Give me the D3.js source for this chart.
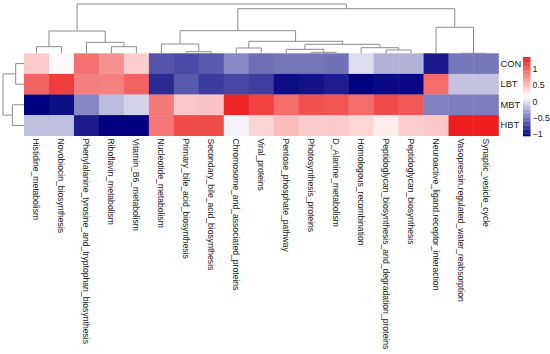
<!DOCTYPE html>
<head>
  <meta charset="utf-8">
  <script src="https://d3js.org/d3.v7.min.js"></script>
  <style>
    body { margin:0; background:#fff; }
    text { font-family: "Liberation Sans", Arial, sans-serif; fill:#1a1a1a; }
  </style>
</head>
<body>
  <div class="body"></div>
  <script>
    // pathways (columns, in dendrogram order) and groups (rows)
    const columns = ["Histidine_metabolism", "Novobiocin_biosynthesis",
      "Phenylalanine_tyrosine_and_tryptophan_biosynthesis", "Riboflavin_metabolism",
      "Vitamin_B6_metabolism", "Nucleotide_metabolism", "Primary_bile_acid_biosynthesis",
      "Secondary_bile_acid_biosynthesis", "Chromosome_and_associated_proteins", "Viral_proteins",
      "Pentose_phosphate_pathway", "Photosynthesis_proteins", "D_Alanine_metabolism",
      "Homologous_recombination", "Peptidoglycan_biosynthesis_and_degradation_proteins",
      "Peptidoglycan_biosynthesis", "Neuroactive_ligand.receptor_interaction",
      "Vasopressin.regulated_water_reabsorption", "Synaptic_vesicle_cycle"];
    const rows = ["CON", "LBT", "MBT", "HBT"];

    // scaled values, one array per row
    const valCON = [0.44, 0.18, 0.92, 0.75, 0.42, -0.66, -0.70, -0.64, -0.41, -0.53,
                    -0.50, -0.50, -0.52, 0.00, -0.21, -0.21, -0.94, -0.50, -0.50];
    const valLBT = [1.00, 1.20, 0.85, 0.84, 1.00, -0.86, -0.64, -0.78, -0.72, -0.76,
                    -1.00, -0.97, -0.92, -1.06, -1.02, -1.02, 0.95, -0.13, -0.13];
    const valMBT = [-1.06, -1.00, -0.42, -0.17, -0.06, 0.88, 0.46, 0.48, 1.34, 1.18,
                    0.95, 1.10, 1.08, 0.95, 1.13, 1.06, -0.45, -0.47, -0.47];
    const valHBT = [-0.15, -0.15, -0.93, -1.06, -1.06, 0.88, 1.12, 1.12, 0.10, 0.40,
                    0.52, 0.43, 0.44, 0.38, 0.26, 0.42, 0.45, 1.37, 1.37];
    const values = [valCON, valLBT, valMBT, valHBT];

    const legendTicks = [-1, -0.5, 0, 0.5, 1];
    const valueRange = [-1.06, 1.37];

    // hclust style merges: negative = leaf (1-based), positive = earlier merge
    const colMerge = [[-1, -2, 0.66], [-4, -5, 0.66], [-3, 2, 1.10], [1, 3, 2.23],
      [-7, -8, 0.16], [-6, 5, 0.93], [-9, -10, 0.53], [-12, -13, 0.10], [-11, 8, 0.40],
      [-15, -16, 0.33], [-14, 10, 0.56], [9, 11, 0.90], [7, 12, 1.20], [6, 13, 2.26],
      [-18, -19, 0.0], [-17, 15, 2.60], [14, 16, 4.46], [4, 17, 4.93]];
    const rowMerge = [[-1, -2, 0.83], [-3, -4, 1.17], [1, 2, 2.10]];

    const W = 550, H = 354;
    const svg = d3.select(".body").append("svg")
      .attr("width", W).attr("height", H);

    const x = d3.scaleBand().domain(columns).range([24, 498.5]);
    const y = d3.scaleBand().domain(rows).range([53.3, 135.7]);

    const mid = (valueRange[0] + valueRange[1]) / 2;
    const color = d3.scaleLinear()
      .domain([valueRange[0], mid, valueRange[1]])
      .range(["#000080", "#ffffff", "#ee1e1e"]);

    // cells
    const cells = [];
    rows.forEach(function(r, i) {
      columns.forEach(function(c, j) { cells.push({row: r, col: c, v: values[i][j]}); });
    });
    svg.append("g").selectAll("rect").data(cells).enter().append("rect")
      .attr("x", function(d) { return x(d.col); })
      .attr("y", function(d) { return y(d.row); })
      .attr("width", x.bandwidth() + 0.3)
      .attr("height", y.bandwidth() + 0.3)
      .attr("fill", function(d) { return color(d.v); });

    // dendrogram helper
    function dendro(merge, leafPos, hScale, vertical) {
      const pos = [], hgt = [];
      let d = "";
      merge.forEach(function(m, k) {
        const p = [], h = [];
        for (let s = 0; s < 2; s++) {
          const id = m[s];
          if (id < 0) { p.push(leafPos(-id - 1)); h.push(0); }
          else { p.push(pos[id - 1]); h.push(hgt[id - 1]); }
        }
        const t = m[2];
        if (vertical) {
          d += "M" + p[0] + "," + hScale(h[0]) + "V" + hScale(t) + "H" + p[1] + "V" + hScale(h[1]);
        } else {
          d += "M" + hScale(h[0]) + "," + p[0] + "H" + hScale(t) + "V" + p[1] + "H" + hScale(h[1]);
        }
        pos.push((p[0] + p[1]) / 2);
        hgt.push(t);
      });
      return d;
    }

    const colH = d3.scaleLinear().domain([0, 4.93]).range([53.3, 4]);
    svg.append("path")
      .attr("d", dendro(colMerge, function(i) { return x(columns[i]) + x.bandwidth() / 2; }, colH, true))
      .attr("fill", "none").attr("stroke", "#8c8c8c").attr("stroke-width", 1);

    const rowH = d3.scaleLinear().domain([0, 2.10]).range([24, 3]);
    svg.append("path")
      .attr("d", dendro(rowMerge, function(i) { return y(rows[i]) + y.bandwidth() / 2; }, rowH, false))
      .attr("fill", "none").attr("stroke", "#8c8c8c").attr("stroke-width", 1);

    // row labels
    svg.append("g").selectAll("text").data(rows).enter().append("text")
      .attr("x", 500.5)
      .attr("y", function(d) { return y(d) + y.bandwidth() / 2; })
      .attr("dominant-baseline", "central")
      .attr("font-size", 9.3)
      .text(function(d) { return d; });

    // column labels, rotated
    svg.append("g").selectAll("text").data(columns).enter().append("text")
      .attr("transform", function(d) {
        return "translate(" + (x(d) + x.bandwidth() / 2) + ",138.5) rotate(90)";
      })
      .attr("dominant-baseline", "central")
      .attr("font-size", 8.6)
      .text(function(d) { return d; });

    // colour legend
    const ly = d3.scaleLinear().domain(valueRange).range([136, 57]);
    const steps = d3.range(60).map(function(i) {
      return valueRange[0] + (valueRange[1] - valueRange[0]) * i / 60;
    });
    const stepH = (valueRange[1] - valueRange[0]) / 60;
    svg.append("g").selectAll("rect").data(steps).enter().append("rect")
      .attr("x", 523).attr("width", 7.5)
      .attr("y", function(d) { return ly(d + stepH); })
      .attr("height", function(d) { return ly(d) - ly(d + stepH) + 0.3; })
      .attr("fill", function(d) { return color(d + stepH / 2); });

    svg.append("g").selectAll("text").data(legendTicks).enter().append("text")
      .attr("x", 532.5)
      .attr("y", function(d) { return ly(d); })
      .attr("dominant-baseline", "central")
      .attr("font-size", 8.8)
      .text(function(d) { return d < 0 ? "\u2212" + Math.abs(d) : d; });
  </script>
</body>
